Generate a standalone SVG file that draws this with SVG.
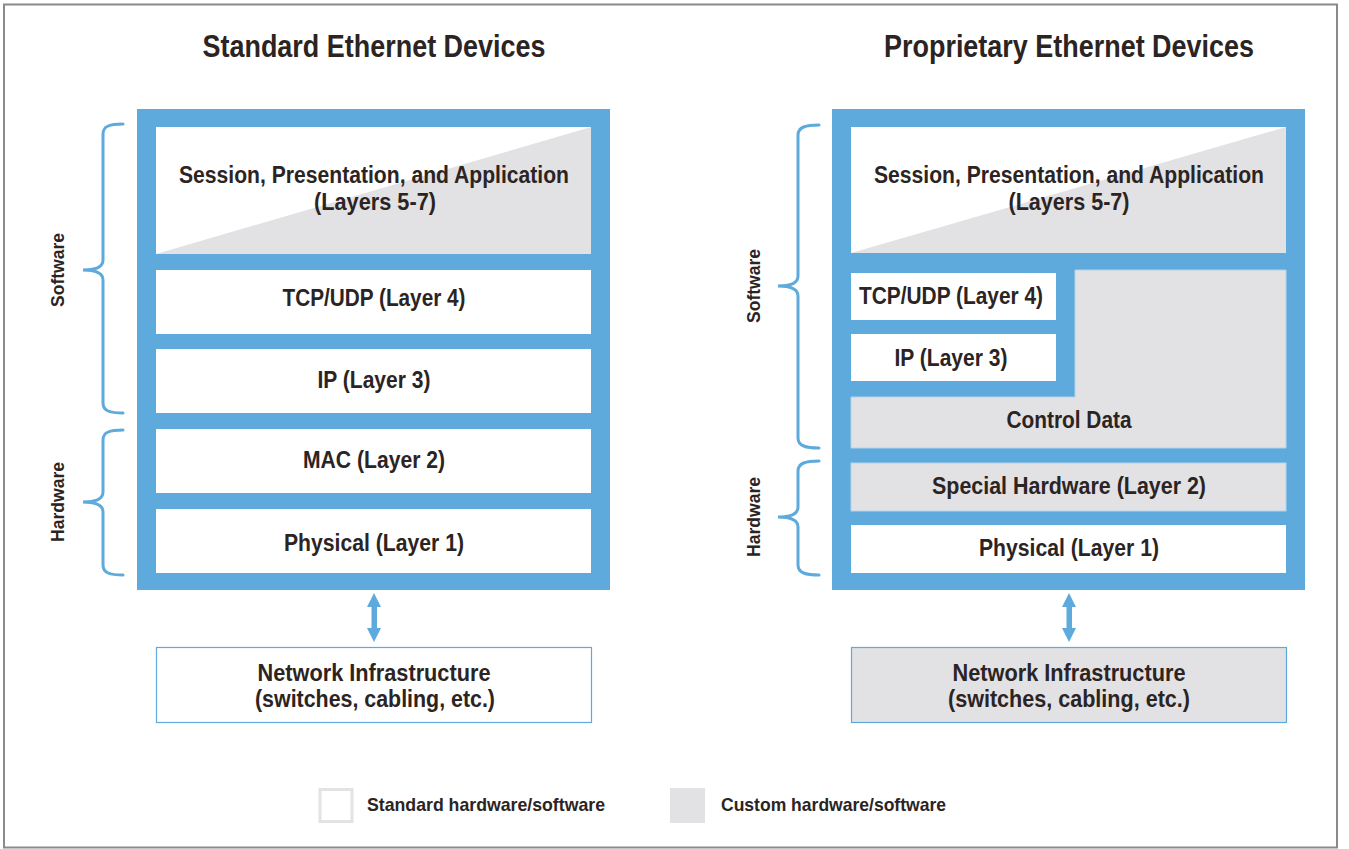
<svg xmlns="http://www.w3.org/2000/svg" width="1349" height="849" viewBox="0 0 1349 849">
<style>
.t{font-family:"Liberation Sans",Arial,sans-serif;font-weight:bold;fill:#2b2422;text-anchor:middle}
.title{font-size:32px}
.lay{font-size:23px}
.lab{font-size:19px}
.leg{font-size:19px;text-anchor:start}
.blue{fill:#5eaadc}
.wh{fill:#ffffff}
.gr{fill:#e2e1e4}
.brace{fill:none;stroke:#5eaadc;stroke-width:3;stroke-linecap:round}
.arrow{fill:#5eaadc}
</style>
<rect x="0" y="0" width="1349" height="849" fill="#ffffff"/>
<rect x="4" y="4.5" width="1333" height="843" fill="none" stroke="#8a8a8a" stroke-width="2"/>

<g id="title-standard"><text class="t title" x="374" y="57" textLength="343" lengthAdjust="spacingAndGlyphs">Standard Ethernet Devices</text></g>
<g id="title-proprietary"><text class="t title" x="1069" y="57" textLength="370" lengthAdjust="spacingAndGlyphs">Proprietary Ethernet Devices</text></g>

<!-- Left stack -->
<g id="left-stack">
<rect class="blue" x="137" y="109" width="473" height="481"/>
<g id="l-session">
<rect class="wh" x="156" y="127" width="435" height="127"/>
<polygon class="gr" points="156,254 591,127 591,254"/>
<text class="t lay" x="374" y="183" textLength="390" lengthAdjust="spacingAndGlyphs">Session, Presentation, and Application</text>
<text class="t lay" x="375" y="210" textLength="122" lengthAdjust="spacingAndGlyphs">(Layers 5-7)</text>
</g>
<g id="l-tcp"><rect class="wh" x="156" y="270" width="435" height="64"/>
<text class="t lay" x="374" y="306" textLength="183" lengthAdjust="spacingAndGlyphs">TCP/UDP (Layer 4)</text></g>
<g id="l-ip"><rect class="wh" x="156" y="349" width="435" height="64"/>
<text class="t lay" x="374" y="388" textLength="113" lengthAdjust="spacingAndGlyphs">IP (Layer 3)</text></g>
<g id="l-mac"><rect class="wh" x="156" y="429" width="435" height="64"/>
<text class="t lay" x="374" y="468" textLength="142" lengthAdjust="spacingAndGlyphs">MAC (Layer 2)</text></g>
<g id="l-phy"><rect class="wh" x="156" y="509" width="435" height="64"/>
<text class="t lay" x="374" y="551" textLength="180" lengthAdjust="spacingAndGlyphs">Physical (Layer 1)</text></g>
</g>

<!-- Right stack -->
<g id="right-stack">
<rect class="blue" x="832" y="109" width="473" height="481"/>
<g id="r-session">
<rect class="wh" x="851" y="127" width="435" height="126"/>
<polygon class="gr" points="851,253 1286,127 1286,253"/>
<text class="t lay" x="1069" y="183" textLength="390" lengthAdjust="spacingAndGlyphs">Session, Presentation, and Application</text>
<text class="t lay" x="1069" y="210" textLength="121" lengthAdjust="spacingAndGlyphs">(Layers 5-7)</text>
</g>
<g id="r-tcp"><rect class="wh" x="851" y="273" width="205" height="47"/>
<text class="t lay" x="951" y="304" textLength="184" lengthAdjust="spacingAndGlyphs">TCP/UDP (Layer 4)</text></g>
<g id="r-ip"><rect class="wh" x="851" y="334" width="205" height="47"/>
<text class="t lay" x="951" y="366" textLength="113" lengthAdjust="spacingAndGlyphs">IP (Layer 3)</text></g>
<g id="r-control"><polygon class="gr" points="1075,270 1286,270 1286,448 851,448 851,397 1075,397" stroke="#b3d3ec" stroke-width="1"/>
<text class="t lay" x="1069" y="428" textLength="125" lengthAdjust="spacingAndGlyphs">Control Data</text></g>
<g id="r-special"><rect class="gr" x="851" y="463" width="435" height="48" stroke="#b3d3ec" stroke-width="1"/>
<text class="t lay" x="1069" y="494" textLength="274" lengthAdjust="spacingAndGlyphs">Special Hardware (Layer 2)</text></g>
<g id="r-phy"><rect class="wh" x="851" y="525" width="435" height="48"/>
<text class="t lay" x="1069" y="556" textLength="180" lengthAdjust="spacingAndGlyphs">Physical (Layer 1)</text></g>
</g>

<!-- Braces and labels -->
<g id="l-software-brace">
<path class="brace" d="M123,124 C110,124 103,126 103,134 L103,260 C103,267 96,270 83,270 C96,270 103,273 103,280 L103,403 C103,411 110,413 123,413"/>
<text class="t lab" transform="translate(64,270) rotate(-90)" x="0" y="0" textLength="74" lengthAdjust="spacingAndGlyphs">Software</text>
</g>
<g id="l-hardware-brace">
<path class="brace" d="M123,430 C110,430 103,432 103,440 L103,492 C103,499 96,502 83,502 C96,502 103,505 103,512 L103,565 C103,573 110,575 123,575"/>
<text class="t lab" transform="translate(64,502) rotate(-90)" x="0" y="0" textLength="80" lengthAdjust="spacingAndGlyphs">Hardware</text>
</g>
<g id="r-software-brace">
<path class="brace" d="M819,125 C806,125 798,127 798,135 L798,276 C798,283 791,286 778,286 C791,286 798,289 798,296 L798,438 C798,446 806,448 819,448"/>
<text class="t lab" transform="translate(760,286) rotate(-90)" x="0" y="0" textLength="74" lengthAdjust="spacingAndGlyphs">Software</text>
</g>
<g id="r-hardware-brace">
<path class="brace" d="M819,461 C806,461 798,463 798,471 L798,507 C798,514 791,517 778,517 C791,517 798,520 798,527 L798,565 C798,573 806,575 819,575"/>
<text class="t lab" transform="translate(760,517) rotate(-90)" x="0" y="0" textLength="80" lengthAdjust="spacingAndGlyphs">Hardware</text>
</g>

<!-- Connectors -->
<g id="connectors">
<polygon class="arrow" points="374,593 381,607 377,607 377,628 381,628 374,642 367,628 371.5,628 371.5,607 367,607"/>
<polygon class="arrow" points="1069,593 1076,607 1072,607 1072,628 1076,628 1069,642 1062,628 1066.5,628 1066.5,607 1062,607"/>
</g>

<!-- Network infrastructure -->
<g id="l-network">
<rect x="156.5" y="647.5" width="435" height="75" fill="#ffffff" stroke="#5eaadc" stroke-width="1.2"/>
<text class="t lay" x="374" y="681" textLength="233" lengthAdjust="spacingAndGlyphs">Network Infrastructure</text>
<text class="t lay" x="375" y="707" textLength="240" lengthAdjust="spacingAndGlyphs">(switches, cabling, etc.)</text>
</g>
<g id="r-network">
<rect x="851.5" y="647.5" width="435" height="75" fill="#e2e1e4" stroke="#5eaadc" stroke-width="1.2"/>
<text class="t lay" x="1069" y="681" textLength="233" lengthAdjust="spacingAndGlyphs">Network Infrastructure</text>
<text class="t lay" x="1069" y="707" textLength="242" lengthAdjust="spacingAndGlyphs">(switches, cabling, etc.)</text>
</g>

<!-- Legend -->
<g id="legend-standard">
<rect x="320" y="789.5" width="32" height="32" fill="#ffffff" stroke="#e3e3e5" stroke-width="3"/>
<text class="t leg" x="367" y="811" textLength="238" lengthAdjust="spacingAndGlyphs">Standard hardware/software</text>
</g>
<g id="legend-custom">
<rect class="gr" x="670" y="788" width="35" height="35"/>
<text class="t leg" x="721" y="811" textLength="225" lengthAdjust="spacingAndGlyphs">Custom hardware/software</text>
</g>
</svg>
